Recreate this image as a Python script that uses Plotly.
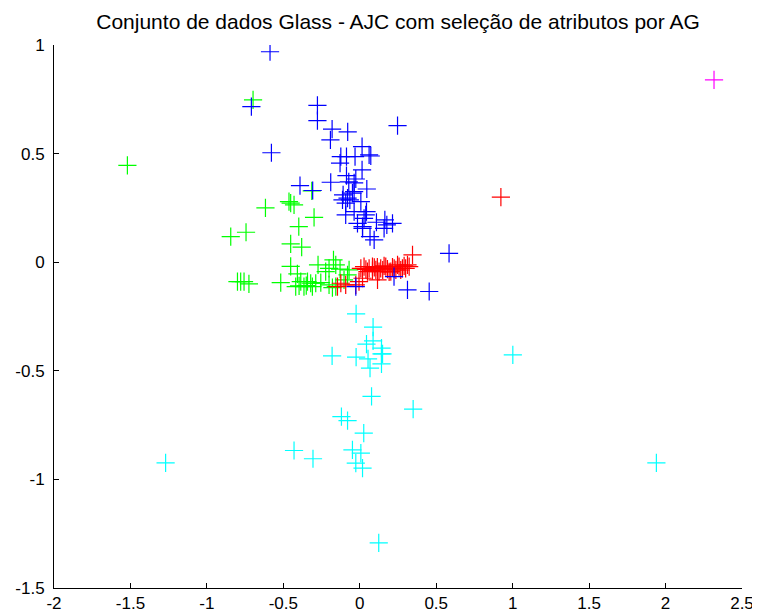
import plotly.graph_objects as go

title_text = "Conjunto de dados Glass - AJC com seleção de atributos por AG"

x_ticks = [-2, -1.5, -1, -0.5, 0, 0.5, 1, 1.5, 2, 2.5]
x_tick_labels = ["-2", "-1.5", "-1", "-0.5", "0", "0.5", "1", "1.5", "2", "2.5"]
y_ticks = [-1.5, -1, -0.5, 0, 0.5, 1]
y_tick_labels = ["-1.5", "-1", "-0.5", "0", "0.5", "1"]

green_x = [-0.698, -1.520, -0.463, -0.452, -0.430, -0.617, -0.299, -0.399, -0.314, -0.844,
           -0.744, -0.452, -0.380, -0.452, -0.408, -0.273, -0.172, -0.157, -0.201, -0.129,
           -0.070, -0.080, -0.103, -0.223, -0.800, -0.779, -0.757, -0.725, -0.517, -0.386,
           -0.342, -0.321, -0.288, -0.255, -0.419, -0.365, -0.310, -0.201, -0.157, -0.179,
           -0.397, -0.350]
green_y = [0.747, 0.446, 0.279, 0.272, 0.264, 0.250, 0.206, 0.164, 0.328, 0.118,
           0.138, 0.084, 0.069, -0.019, -0.054, -0.012, 0.011, -0.012, -0.028, -0.032,
           -0.035, -0.058, -0.081, -0.043, -0.089, -0.089, -0.089, -0.100, -0.094, -0.089,
           -0.089, -0.097, -0.097, -0.094, -0.112, -0.112, -0.112, -0.104, -0.112, -0.117,
           -0.109, -0.108]

red_x = [0.923, 0.345, 0.007, 0.028, 0.061, 0.083, 0.083, 0.105, 0.126, 0.137,
         0.159, 0.181, 0.203, 0.214, 0.236, 0.247, 0.257, 0.279, 0.290, 0.312,
         0.323, 0.050, 0.040, 0.095, 0.150, 0.170, 0.225, 0.268, 0.300, 0.192,
         0.115, 0.116, -0.124, -0.092, -0.146, -0.005, -0.026, 0.018]
red_y = [0.300, 0.034, -0.028, -0.020, -0.028, -0.020, -0.039, -0.035, -0.043, -0.028,
         -0.017, -0.032, -0.043, -0.023, -0.035, -0.012, -0.020, -0.028, -0.017, -0.012,
         -0.020, -0.043, -0.033, -0.024, -0.036, -0.020, -0.028, -0.036, -0.028, -0.045,
         -0.022, -0.081, -0.097, -0.104, -0.112, -0.089, -0.104, -0.074]

blue_x = [-0.587, -0.709, -0.277, -0.277, -0.181, -0.079, -0.192, 0.247, -0.578, 0.015,
          -0.124, -0.129, -0.087, -0.031, 0.061, 0.072, 0.015, -0.087, -0.026, -0.190,
          -0.391, -0.308, 0.046, -0.109, -0.048, -0.113, -0.065, 0.007, -0.092, -0.037,
          -0.092, 0.044, 0.028, 0.109, 0.164, 0.214, 0.018, -0.015, -0.072, -0.037,
          -0.080, -0.037, 0.039, 0.018, 0.067, 0.094, 0.159, 0.177, 0.584, 0.224,
          0.312, 0.454, -0.026]
blue_y = [0.969, 0.716, 0.722, 0.652, 0.613, 0.600, 0.563, 0.629, 0.504, 0.532,
          0.486, 0.456, 0.486, 0.486, 0.494, 0.489, 0.425, 0.399, 0.383, 0.368,
          0.353, 0.330, 0.337, 0.310, 0.318, 0.287, 0.287, 0.279, 0.272, 0.233,
          0.218, 0.233, 0.202, 0.184, 0.195, 0.179, 0.164, 0.179, 0.370, 0.365,
          0.295, 0.325, 0.218, 0.156, 0.118, 0.103, 0.156, 0.172, 0.041, -0.066,
          -0.127, -0.135, -0.112]

cyan_x = [-0.024, 0.087, 0.087, 0.044, 0.142, 0.142, 0.149, -0.181, -0.024, 0.054,
          0.142, 0.067, 0.077, 0.349, -0.120, -0.080, 0.026, -0.430, -0.306, -0.048,
          0.007, -0.026, 0.018, 1.001, -1.270, 1.940, 0.124]
cyan_y = [-0.238, -0.299, -0.362, -0.377, -0.396, -0.422, -0.422, -0.431, -0.437, -0.445,
          -0.468, -0.488, -0.618, -0.676, -0.711, -0.729, -0.787, -0.867, -0.905, -0.864,
          -0.879, -0.925, -0.948, -0.427, -0.924, -0.924, -1.292]

magenta_x = [2.317]
magenta_y = [0.839]

series = [
    (green_x, green_y, "#00FF00"),
    (red_x, red_y, "#FF0000"),
    (blue_x, blue_y, "#0000FF"),
    (cyan_x, cyan_y, "#00FFFF"),
    (magenta_x, magenta_y, "#FF00FF"),
]

fig = go.Figure()
for xs, ys, col in series:
    fig.add_trace(go.Scatter(
        x=xs, y=ys, mode="markers",
        marker=dict(symbol="cross-thin", size=13, color=col,
                    line=dict(width=1.2, color=col)),
        showlegend=False, hoverinfo="skip",
    ))

axis_common = dict(
    showgrid=False, zeroline=False, showline=True, linecolor="black", linewidth=1,
    ticks="inside", ticklen=5, tickcolor="black", tickwidth=1, mirror=False,
    automargin=False, ticklabeloverflow="allow",
    tickfont=dict(family="Liberation Sans, Arial, sans-serif", size=17, color="black"),
)

# the page body adds an 8px offset, so the figure is 752x608
fig.update_layout(
    width=752, height=608,
    margin=dict(l=46, r=18, t=37, b=28),
    paper_bgcolor="white", plot_bgcolor="white",
    title=dict(text=title_text, x=0.5, xref="paper", y=1 - 14 / 608, yref="container",
               xanchor="center", yanchor="middle",
               font=dict(family="Liberation Sans, Arial, sans-serif", size=21, color="black")),
    xaxis=dict(range=[-2, 2.5], tickvals=x_ticks, ticktext=x_tick_labels,
               ticklabelstandoff=0, **axis_common),
    yaxis=dict(range=[-1.5, 1], tickvals=y_ticks, ticktext=y_tick_labels,
               ticklabelstandoff=5, **axis_common),
)

fig.write_html("out.html")
